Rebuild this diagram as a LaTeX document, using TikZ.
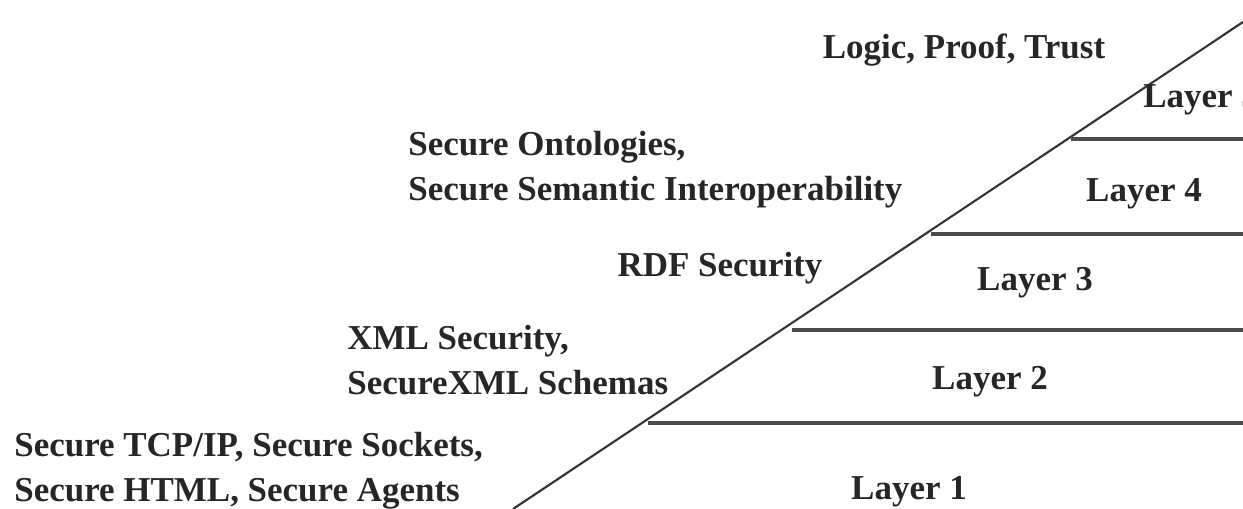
\documentclass[tikz,border=0pt]{standalone}
\usepackage{fontspec}
\setmainfont{Liberation Serif}

\begin{document}
\begin{tikzpicture}
                [x=0.02cm, y=-0.02cm,
                  every node/.style={font=\bfseries\fontsize{19.9}{25.6}\selectfont, inner sep=0pt, text=black!85},
                  layer/.style={anchor=center},
                  topic/.style={anchor=west, align=left},
                  ramp/.style={draw=black!80, line width=1.2pt},
                  shelf/.style={draw=black!70, line width=1.8pt},
                ]
                \useasboundingbox (0,0) rectangle (1243,509);
                \clip (0,0) rectangle (1243,509);
                % the slope and where each layer starts on it
                \coordinate (foot) at (513,509);
                \coordinate (peak) at (1243,22);
                \coordinate (s1) at (648,423);
                \coordinate (s2) at (792,330);
                \coordinate (s3) at (931,234);
                \coordinate (s4) at (1071,139);
                \coordinate (e1) at (1243,423);
                \coordinate (e2) at (1243,330);
                \coordinate (e3) at (1243,234);
                \coordinate (e4) at (1243,139);
                \draw [ramp] (foot) -- (peak);
                \foreach \i in {1,...,4}
                  \draw [shelf] (s\i) -- (e\i);
                % layer names
                \node [layer] (layer1) at (909,492) {Layer 1};
                \node [layer] (layer2) at (990,382) {Layer 2};
                \node [layer] (layer3) at (1035,283) {Layer 3};
                \node [layer] (layer4) at (1144,194) {Layer 4};
                \node [anchor=west] (layer5) at (1143,100) {Layer 5};
                % what each layer secures
                \node [topic] (tcp) at (14,471) {Secure TCP/IP, Secure Sockets,\\Secure HTML, Secure Agents};
                \node [topic] (xml) at (347,360) {XML Security,\\SecureXML Schemas};
                \node [layer] (rdf) at (720,268) {RDF Security};
                \node [topic] (onto) at (408,170) {Secure Ontologies,\\Secure Semantic Interoperability};
                \node [layer] (logic) at (964,50) {Logic, Proof, Trust};
            \end{tikzpicture}
\end{document}
